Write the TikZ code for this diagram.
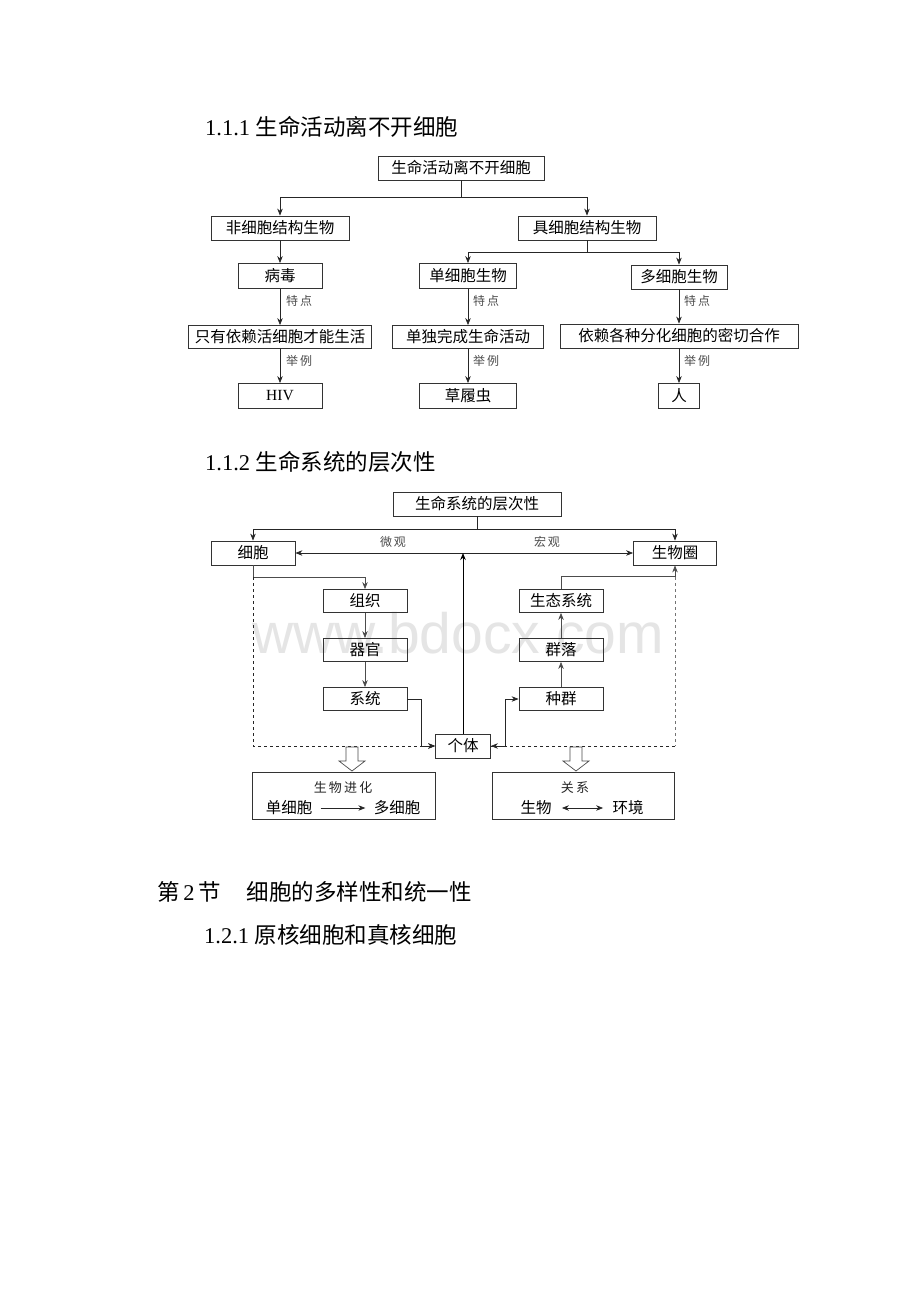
\documentclass[tikz,border=0pt]{standalone}
\usepackage{fontspec}
\setmainfont{Liberation Serif}
\newfontfamily\cjk{Noto Sans CJK SC}
\newfontfamily\wmfont{Liberation Sans}
\usetikzlibrary{arrows.meta,calc}
\begin{document}
\begin{tikzpicture}[x=1pt,y=-1pt,
  box/.style={draw=black!80, line width=0.8pt, inner sep=0pt, minimum height=24pt,
    font=\cjk\fontsize{15.5}{16}\selectfont, anchor=center},
  ln/.style={draw=black!85, line width=0.7pt},
  arr/.style={ln, -{Stealth[length=7pt,width=5.5pt]}},
  lbl/.style={font=\cjk\fontsize{12}{12}\selectfont, text=black!70, inner sep=0pt},
  head/.style={font=\fontsize{22.5}{24}\selectfont, anchor=west, inner sep=0pt},
  blk/.style={draw=black!70, line width=0.7pt, fill=white},
]
\useasboundingbox (0,0) rectangle (920,1302);
\fill[white] (0,0) rectangle (920,1302);

% watermark
\node[font=\wmfont\fontsize{57}{57}\selectfont, text=black!10, anchor=base, inner sep=0pt] (wm) at (458,653) {www.bdocx.com};

% headings
\node[head] (h1) at (205,127) {1.1.1 {\cjk 生命活动离不开细胞}};
\node[head] (h2) at (205,462) {1.1.2 {\cjk 生命系统的层次性}};
\node[head] (h3) at (157,892) {{\cjk 第}\,2\,{\cjk 节}\hspace{26pt}{\cjk 细胞的多样性和统一性}};
\node[head] (h4) at (204,935) {1.2.1 {\cjk 原核细胞和真核细胞}};

% ---------- diagram 1 ----------
\node[box, minimum width=166pt] (root) at (461,168) {生命活动离不开细胞};
\node[box, minimum width=138pt] (nc) at (280,228) {非细胞结构生物};
\node[box, minimum width=138pt] (jc) at (587,228) {具细胞结构生物};
\node[box, minimum width=84pt, minimum height=25pt] (bd) at (280,276) {病毒};
\node[box, minimum width=97pt, minimum height=25pt] (dx) at (468,276) {单细胞生物};
\node[box, minimum width=96pt, minimum height=24pt] (dz) at (679,277) {多细胞生物};
\node[box, minimum width=183pt, minimum height=23pt] (t1) at (280,337) {只有依赖活细胞才能生活};
\node[box, minimum width=151pt, minimum height=23pt] (t2) at (468,337) {单独完成生命活动};
\node[box, minimum width=238pt, minimum height=24pt] (t3) at (679,336) {依赖各种分化细胞的密切合作};
\node[box, minimum width=84pt, minimum height=25pt, font=\fontsize{15.5}{16}\selectfont] (e1) at (280,396) {HIV};
\node[box, minimum width=97pt, minimum height=25pt] (e2) at (468,396) {草履虫};
\node[box, minimum width=41pt, minimum height=25pt] (e3) at (679,396) {人};

\draw[arr] (root.south) -- ++(0,17) -| (nc.north);
\draw[arr] (root.south) -- ++(0,17) -| (jc.north);
\draw[arr] (jc.south) -- ++(0,12) -| (dx.north);
\draw[arr] (jc.south) -- ++(0,12) -| (dz.north);
\draw[arr] (nc.south) -- (bd.north);
\draw[arr] (bd.south) -- (t1.north);
\draw[arr] (dx.south) -- (t2.north);
\draw[arr] (dz.south) -- (t3.north);
\draw[arr] (t1.south) -- (e1.north);
\draw[arr] (t2.south) -- (e2.north);
\draw[arr] (t3.south) -- (e3.north);

\node[lbl, anchor=west] (l1) at (286,301) {特\,点};
\node[lbl, anchor=west] (l2) at (473,301) {特\,点};
\node[lbl, anchor=west] (l3) at (684,301) {特\,点};
\node[lbl, anchor=west] (l4) at (286,361) {举\,例};
\node[lbl, anchor=west] (l5) at (473,361) {举\,例};
\node[lbl, anchor=west] (l6) at (684,361) {举\,例};

% ---------- diagram 2 ----------
\node[box, minimum width=168pt] (top2) at (477,504) {生命系统的层次性};
\node[box, minimum width=84pt] (xb) at (253,553) {细胞};
\node[box, minimum width=83pt] (swq) at (675,553) {生物圈};
\node[box, minimum width=84pt, minimum height=23pt] (zz) at (365,601) {组织};
\node[box, minimum width=84pt, minimum height=23pt] (qg) at (365,650) {器官};
\node[box, minimum width=84pt, minimum height=23pt] (xt) at (365,699) {系统};
\node[box, minimum width=84pt, minimum height=23pt] (st) at (561,601) {生态系统};
\node[box, minimum width=84pt, minimum height=23pt] (ql) at (561,650) {群落};
\node[box, minimum width=84pt, minimum height=23pt] (zq) at (561,699) {种群};
\node[box, minimum width=55pt, minimum height=24pt] (gt) at (463,746) {个体};

\coordinate (mid) at (gt.north |- xb.east);
\draw[arr] (top2.south) -- ++(0,13) -| (xb.north);
\draw[arr] (top2.south) -- ++(0,13) -| (swq.north);
\draw[arr] (mid) -- (xb.east);
\draw[arr] (mid) -- (swq.west);
\draw[arr, draw=black, line width=0.9pt] (gt.north) -- (mid);
\node[lbl] (wg) at (393,542) {微\,观};
\node[lbl] (hg) at (547,542) {宏\,观};

\coordinate (xbb) at ($(xb.south)+(0,12)$);
\coordinate (swb) at ($(swq.south)+(0,12)$);
\draw[arr, draw=black!70] (xb.south) -- (xbb) -| (zz.north);
\draw[arr, draw=black!70] (zz.south) -- (qg.north);
\draw[arr, draw=black!70] (qg.south) -- (xt.north);
\draw[arr] (xt.east) -- ++(14,0) |- (gt.west);
\draw[arr, dashed] (xbb) |- (gt.west);

\draw[arr, draw=black!70] (zq.north) -- (ql.south);
\draw[arr, draw=black!70] (ql.north) -- (st.south);
\draw[arr, draw=black!70] (st.north) -- ++(0,-13) -| (swq.south);
\draw[ln, dashed, draw=black!55] (swb) -- (swb |- gt.east);
\draw[arr, dashed] (swb |- gt.east) -- (gt.east);
\draw[arr] (gt.east) -- ++(14,0) |- (zq.west);

% hollow block arrows
\draw[blk] (346,747) -- (358,747) -- (358,761) -- (365,761) -- (352,771) -- (339,761) -- (346,761) -- cycle;
\draw[blk] (570,747) -- (582,747) -- (582,761) -- (589,761) -- (576,771) -- (563,761) -- (570,761) -- cycle;

% bottom boxes
\node[draw=black!80, line width=0.8pt, minimum width=183pt, minimum height=47pt, inner sep=0pt] (b1) at (343.5,795.5) {};
\node[draw=black!80, line width=0.8pt, minimum width=182pt, minimum height=47pt, inner sep=0pt] (b2) at (583,795.5) {};
\node[lbl, text=black!85, font=\cjk\fontsize{13}{13}\selectfont] (sw) at (343,788) {生\,物\,进\,化};
\node[box, draw=none] (dxb) at (289,808) {单细胞};
\node[box, draw=none] (dzb) at (397,808) {多细胞};
\draw[arr] ($(dxb.east)+(8,0)$) -- ($(dzb.west)+(-8,0)$);
\node[lbl, text=black!85, font=\cjk\fontsize{13}{13}\selectfont] (gx) at (575,788) {关\,系};
\node[box, draw=none] (swb2) at (536,808) {生物};
\node[box, draw=none] (hj) at (628,808) {环境};
\draw[ln, {Stealth[length=7pt,width=5.5pt]}-{Stealth[length=7pt,width=5.5pt]}] ($(swb2.east)+(10,0)$) -- ($(hj.west)+(-9,0)$);
\end{tikzpicture}
\end{document}
